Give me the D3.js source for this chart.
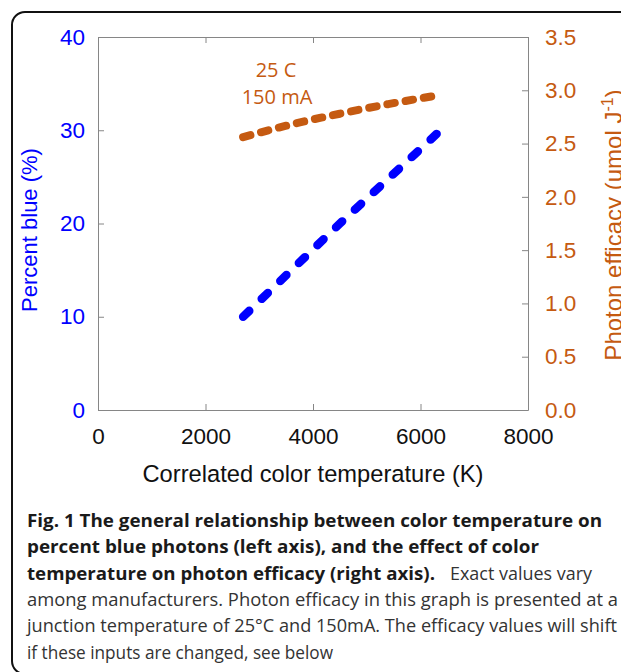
<!DOCTYPE html>
<html>
<head>
<meta charset="utf-8">
<script src="https://cdn.jsdelivr.net/npm/d3@7"></script>
<style>
  body { margin: 0; background: #fff; }
  svg { display: block; }
  .axis path, .axis line { stroke: #868686; }
</style>
</head>
<body>
<svg id="chart"></svg>
<script>
// color temperature (K) vs percent blue and photon efficacy
var cctBlue = [2700, 4500, 6300];
var percentBlue = [10, 20, 29.6];
var cctEff = [2700, 3600, 4500, 5400, 6300];
var efficacy = [2.56, 2.68, 2.78, 2.87, 2.95];

var xTicks = [0, 2000, 4000, 6000, 8000];
var leftTicks = [0, 10, 20, 30, 40];
var rightTicks = [0, 0.5, 1, 1.5, 2, 2.5, 3, 3.5];

var captionLines = [
  { bold: "Fig. 1 The general relationship between color temperature on", normal: "" },
  { bold: "percent blue photons (left axis), and the effect of color", normal: "" },
  { bold: "temperature on photon efficacy (right axis).", normal: "Exact values vary" },
  { bold: "", normal: "among manufacturers. Photon efficacy in this graph is presented at a" },
  { bold: "", normal: "junction temperature of 25°C and 150mA. The efficacy values will shift" },
  { bold: "", normal: "if these inputs are changed, see below" }
];

var blueColor = "#0000ff", orangeColor = "#c55a11";
var chartFont = "'Liberation Sans', Arial, sans-serif";

var margin = { top: 37, right: 93, bottom: 262, left: 98 },
    width = 621 - margin.left - margin.right,
    height = 672 - margin.top - margin.bottom;

var svg = d3.select("#chart")
    .attr("width", 621)
    .attr("height", 672);

// outer frame
svg.append("rect")
    .attr("x", 12)
    .attr("y", 12)
    .attr("width", 720)
    .attr("height", 662)
    .attr("rx", 13)
    .attr("fill", "none")
    .attr("stroke", "#111")
    .attr("stroke-width", 2);

var g = svg.append("g")
    .attr("transform", "translate(" + margin.left + "," + margin.top + ")");

var x = d3.scaleLinear().domain([0, 8000]).range([0, width]);
var yLeft = d3.scaleLinear().domain([0, 40]).range([height, 0]);
var yRight = d3.scaleLinear().domain([0, 3.5]).range([height, 0]);

var xAxis = d3.axisBottom(x).tickValues(xTicks).tickSizeInner(-6).tickSizeOuter(0).tickPadding(18)
    .tickFormat(d3.format("d"));
var xAxisTop = d3.axisTop(x).tickValues(xTicks).tickSizeInner(-6).tickSizeOuter(0).tickFormat("");
var leftAxis = d3.axisLeft(yLeft).tickValues(leftTicks).tickSizeInner(-6).tickSizeOuter(0).tickPadding(13);
var rightAxis = d3.axisRight(yRight).tickValues(rightTicks).tickSizeInner(-6).tickSizeOuter(0).tickPadding(17)
    .tickFormat(d3.format(".1f"));

function styleAxis(sel, color) {
    sel.selectAll("text")
        .attr("fill", color)
        .style("font-family", chartFont)
        .style("font-size", "22.5px");
}

g.append("g").attr("class", "axis")
    .attr("transform", "translate(0," + height + ")")
    .call(xAxis)
    .call(styleAxis, "#111");

g.append("g").attr("class", "axis")
    .call(xAxisTop);

g.append("g").attr("class", "axis")
    .call(leftAxis)
    .call(styleAxis, blueColor);

g.append("g").attr("class", "axis")
    .attr("transform", "translate(" + width + ",0)")
    .call(rightAxis)
    .call(styleAxis, orangeColor);

// lines
var blueLine = d3.line()
    .x(function (d, i) { return x(cctBlue[i]); })
    .y(function (d) { return yLeft(d); });

var effLine = d3.line()
    .curve(d3.curveMonotoneX)
    .x(function (d, i) { return x(cctEff[i]); })
    .y(function (d) { return yRight(d); });

g.append("path")
    .attr("d", effLine(efficacy))
    .attr("fill", "none")
    .attr("stroke", orangeColor)
    .attr("stroke-width", 8)
    .attr("stroke-linecap", "round")
    .attr("stroke-dasharray", "7.5,11");

g.append("path")
    .attr("d", blueLine(percentBlue))
    .attr("fill", "none")
    .attr("stroke", blueColor)
    .attr("stroke-width", 8.5)
    .attr("stroke-linecap", "round")
    .attr("stroke-dasharray", "8.5,17.3");

// annotation
g.append("text")
    .attr("x", 178)
    .attr("y", 40)
    .attr("text-anchor", "middle")
    .attr("fill", orangeColor)
    .style("font-family", "'Open Sans', sans-serif")
    .style("font-size", "20px")
    .text("25 C");

g.append("text")
    .attr("x", 179)
    .attr("y", 67)
    .attr("text-anchor", "middle")
    .attr("fill", orangeColor)
    .style("font-family", "'Open Sans', sans-serif")
    .style("font-size", "20px")
    .text("150 mA");

// axis titles
svg.append("text")
    .attr("transform", "translate(313,482)")
    .attr("text-anchor", "middle")
    .attr("fill", "#111")
    .style("font-family", chartFont)
    .style("font-size", "23.7px")
    .text("Correlated color temperature (K)");

svg.append("text")
    .attr("transform", "translate(37,230) rotate(-90)")
    .attr("text-anchor", "middle")
    .attr("fill", blueColor)
    .style("font-family", chartFont)
    .style("font-size", "22px")
    .text("Percent blue (%)");

var rightTitle = svg.append("text")
    .attr("transform", "translate(622,225) rotate(-90)")
    .attr("text-anchor", "middle")
    .attr("fill", orangeColor)
    .style("font-family", chartFont)
    .style("font-size", "24px");
rightTitle.append("tspan").text("Photon efficacy (umol J");
rightTitle.append("tspan").attr("dy", -9).style("font-size", "16px").text("-1");
rightTitle.append("tspan").attr("dy", 9).text(")");

// caption
var capX = 27, capY0 = 527, capStep = 26.3;
var boldEnds = [602, 539, 435, 0, 0, 0];
var normalSpans = [null, null, [450, 592], [27, 618], [27, 617], [27, 333]];

captionLines.forEach(function (line, i) {
    var yy = capY0 + i * capStep;
    if (line.bold) {
        svg.append("text")
            .attr("x", capX)
            .attr("y", yy)
            .attr("fill", "#1a1a1a")
            .attr("textLength", boldEnds[i] - capX)
            .attr("lengthAdjust", "spacingAndGlyphs")
            .style("font-family", "'Open Sans', sans-serif")
            .style("font-weight", "bold")
            .style("font-size", "18px")
            .text(line.bold);
    }
    if (line.normal) {
        var span = normalSpans[i];
        svg.append("text")
            .attr("x", span[0])
            .attr("y", yy)
            .attr("fill", "#333")
            .attr("textLength", span[1] - span[0])
            .attr("lengthAdjust", "spacingAndGlyphs")
            .style("font-family", "'Open Sans', sans-serif")
            .style("font-size", "18px")
            .text(line.normal);
    }
});
</script>
</body>
</html>
